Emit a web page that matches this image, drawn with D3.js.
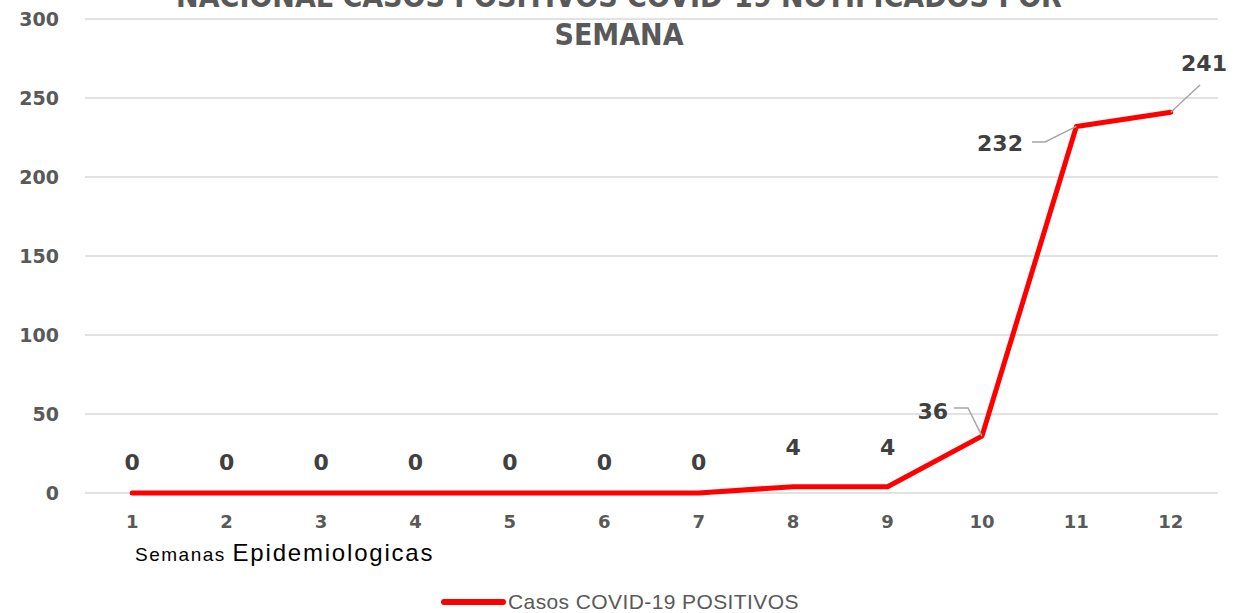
<!DOCTYPE html>
<html><head><meta charset="utf-8">
<script src="https://cdn.jsdelivr.net/npm/d3@7"></script>
<style>body{margin:0;background:#fff}svg{display:block}</style>
</head><body>
<svg id="c" width="1234" height="613"></svg>
<script>
const categories = ["1","2","3","4","5","6","7","8","9","10","11","12"];
const values = [0,0,0,0,0,0,0,4,4,36,232,241];
const yTicks = [0,50,100,150,200,250,300];
const titleLines = ["NACIONAL CASOS POSITIVOS COVID-19 NOTIFICADOS POR","SEMANA"];
const seriesName = "Casos COVID-19 POSITIVOS";

const svg = d3.select("#c");
const x = d3.scaleBand().domain(categories).range([85,1218]);
const y = d3.scaleLinear().domain([0,300]).range([493,19]);
const cx = d => x(d) + x.bandwidth()/2;

// gridlines
svg.append("g").selectAll("line").data(yTicks).join("line")
  .attr("x1",85).attr("x2",1218).attr("y1",d=>y(d)).attr("y2",d=>y(d))
  .attr("stroke","#d9d9d9").attr("stroke-width",1.5);

// y axis labels
const yAxis = svg.append("g").attr("transform","translate(59,0)")
  .call(d3.axisLeft(y).tickValues(yTicks).tickSize(0).tickPadding(0));
yAxis.select(".domain").remove();
yAxis.selectAll("text").attr("font-family","DejaVu Sans").attr("font-weight","bold")
  .attr("font-size",19).attr("fill","#595959");

// x axis labels
const xAxis = svg.append("g").attr("transform","translate(0,515)")
  .call(d3.axisBottom(x).tickSize(0).tickPadding(0));
xAxis.select(".domain").remove();
xAxis.selectAll("text").attr("font-family","DejaVu Sans").attr("font-weight","bold")
  .attr("font-size",18).attr("fill","#595959");

// title
svg.append("g").selectAll("text").data(titleLines).join("text")
  .attr("x",619).attr("y",(d,i)=>7+i*38).attr("text-anchor","middle")
  .attr("font-family","Liberation Sans Narrow, DejaVu Sans Condensed, sans-serif")
  .attr("font-weight","bold").attr("font-size",30).attr("fill","#595959")
  .text(d=>d);

// x axis title
const xt = svg.append("text").attr("x",135).attr("y",561).attr("font-family","Liberation Sans, sans-serif").attr("fill","#000");
xt.append("tspan").attr("font-size",19).attr("letter-spacing",1.5).text("Semanas ");
xt.append("tspan").attr("font-size",24).attr("letter-spacing",1.8).text("Epidemiologicas");

// line
const line = d3.line().x((d,i)=>cx(categories[i])).y(d=>y(d));
svg.append("path").datum(values).attr("d",line).attr("fill","none")
  .attr("stroke","#ff0000").attr("stroke-width",5).attr("stroke-linecap","round").attr("stroke-linejoin","round");

// data labels
const labelFont = sel => sel.attr("font-family","DejaVu Sans").attr("font-weight","bold")
  .attr("font-size",22).attr("fill","#404040");
const lbl = svg.append("g");
values.forEach((v,i)=>{
  const px = cx(categories[i]), py = y(v);
  if (i < 9) {
    lbl.append("text").attr("x",px).attr("y",py - (v===0?23:32)).attr("text-anchor","middle").text(v).call(labelFont);
  }
});
// leader-line labels
const leaders = [
  {i:9, tx:948, ty:419, path:[[954,408],[968,408]]},
  {i:10, tx:1023, ty:151, path:[[1032,142],[1045,142]]},
  {i:11, tx:1227, ty:71, path:[[1200,85]]}
];
leaders.forEach(l=>{
  const px = cx(categories[l.i]), py = y(values[l.i]);
  const pts = l.path.concat([[px,py]]);
  svg.append("path").attr("d",d3.line()(pts)).attr("fill","none").attr("stroke","#a6a6a6").attr("stroke-width",1.5);
  svg.append("text").attr("x",l.tx).attr("y",l.ty).attr("text-anchor","end").text(values[l.i]).call(labelFont);
});

// legend
svg.append("line").attr("x1",444).attr("x2",503).attr("y1",602).attr("y2",602)
  .attr("stroke","#ff0000").attr("stroke-width",6).attr("stroke-linecap","round");
svg.append("text").attr("x",508).attr("y",609).attr("font-family","Liberation Sans, sans-serif")
  .attr("font-size",21).attr("letter-spacing",0.4).attr("fill","#595959").text(seriesName);
</script>
</body></html>
